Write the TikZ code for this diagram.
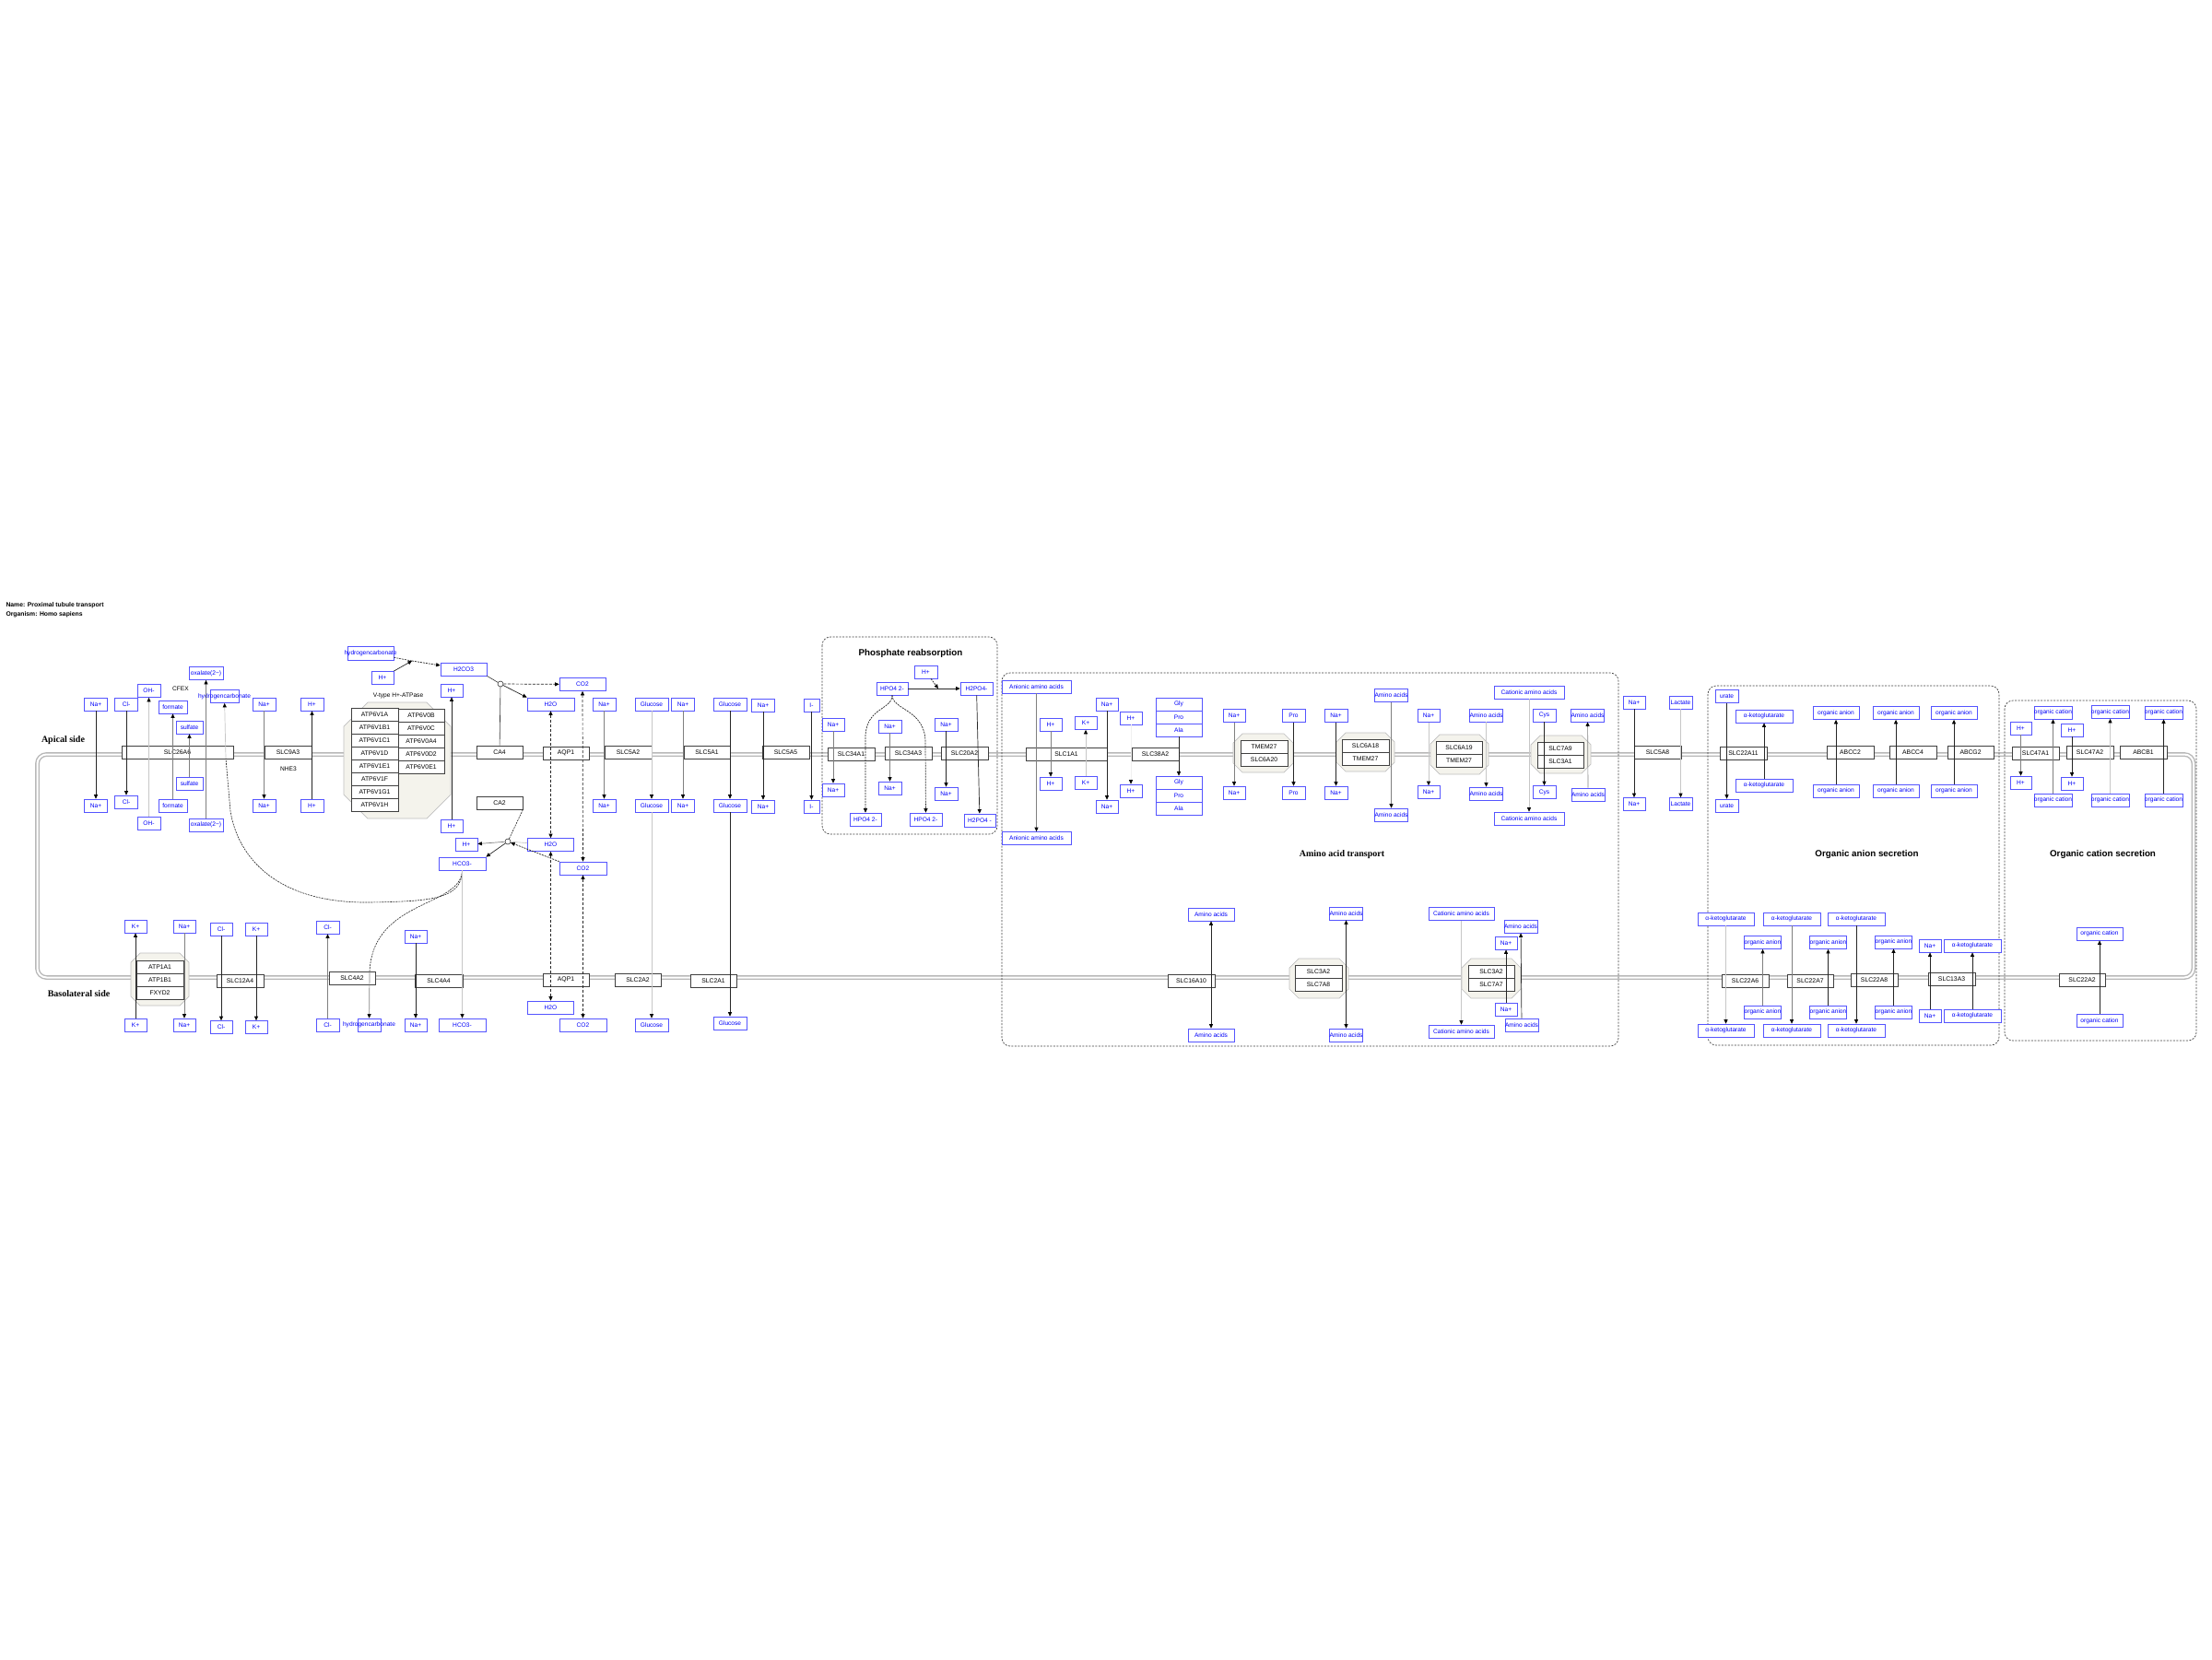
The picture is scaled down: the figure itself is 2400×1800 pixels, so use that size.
\documentclass[tikz,border=0pt]{standalone}
\usepackage{fontspec}
\setmainfont{Liberation Sans}
\newfontfamily\sidefont{Liberation Serif}
\usepackage{xcolor}
\usetikzlibrary{arrows.meta}

\definecolor{metblue}{RGB}{0,0,250}
\definecolor{metline}{RGB}{85,85,255}
\definecolor{cplxfill}{RGB}{244,243,236}
\newcommand{\metfont}{\fontsize{6.6}{7}\selectfont}
\newcommand{\genefont}{\fontsize{6.8}{7}\selectfont}
% octagon behind a protein complex: [chamfer]{x1}{y1}{x2}{y2}
\newcommand{\cplxbg}[5][10]{%
  \draw[cplx] ({#2+#1},#3) -- ({#4-#1},#3) -- (#4,{#3+#1}) -- (#4,{#5-#1})
    -- ({#4-#1},#5) -- ({#2+#1},#5) -- (#2,{#5-#1}) -- (#2,{#3+#1}) -- cycle;}

\begin{document}
\begin{tikzpicture}[
    x=1pt, y=-1pt,
    met/.style={
        draw=metline,
        fill=white,
        text=metblue,
        font=\metfont,
        minimum width=#1,
        minimum height=14,
        inner sep=0pt,
        line width=0.7pt
    },
    met/.default=25,
    mettext/.style={text=metblue, font=\metfont, inner sep=0pt},
    gene/.style={
        draw=black!75,
        fill=white,
        font=\genefont,
        minimum width=#1,
        minimum height=14,
        inner sep=0pt,
        line width=0.7pt
    },
    gene/.default=51,
    note/.style={font=\metfont},
    side/.style={font=\sidefont\fontsize{10}{12}\selectfont\bfseries},
    grptitle/.style={font=\fontsize{9.8}{11}\selectfont\bfseries},
    grp/.style={draw=black!75, dash pattern=on 2pt off 1.5pt, rounded corners=9, line width=0.7pt},
    membrane/.style={draw=black!28, double=white, double distance=2pt, line width=1.4pt, rounded corners=10},
    cplx/.style={draw=black!25, fill=cplxfill, line width=0.7pt},
    cat/.style={circle, draw=black!80, fill=white, minimum size=6, inner sep=0pt, line width=0.6pt},
    flow/.style={
        -{Triangle[length=4.5pt,width=4pt,color=black]},
        draw=black!85,
        line width=0.7pt
    },
    flowg/.style={flow, draw=black!50},
    flowl/.style={flow, draw=black!22},
    both/.style={
        {Triangle[length=4.5pt,width=4pt,color=black]}-{Triangle[length=4.5pt,width=4pt,color=black]},
        draw=black!85,
        line width=0.7pt,
        dash pattern=on 3pt off 2pt
    },
    dline/.style={draw=black!85, line width=0.6pt, dash pattern=on 2pt off 1pt},
    plain/.style={draw=black!80, line width=0.6pt}
]

\fill[white] (0,0) rectangle (2400,1800);
\useasboundingbox (0,0) rectangle (2400,1800);

% Header
\node (hdrname) at (3,657) [anchor=west, font=\fontsize{6.8}{8}\selectfont\bfseries] {Name: Proximal tubule transport};
\node (hdrorg) at (3,667) [anchor=west, font=\fontsize{6.8}{8}\selectfont\bfseries] {Organism: Homo sapiens};

% Cell membrane and groups
\draw[membrane] (40.5,818.5) rectangle (2380,1060.5);
\node (apical) at (68.5,803) [side] {Apical side};
\node (basol) at (85.5,1078) [side] {Basolateral side};

\draw[grp] (892,691) rectangle (1082,905);
\draw[grp] (1087,730) rectangle (1756,1135);
\draw[grp] (1853,744) rectangle (2169,1134);
\draw[grp] (2175,760) rectangle (2383,1129);
\node (phostitle) at (988,709) [grptitle] {Phosphate reabsorption};
\node (aatitle) at (1456,927) [side] {Amino acid transport};
\node (oatitle) at (2025.5,927) [grptitle] {Organic anion secretion};
\node (octitle) at (2281.5,927) [grptitle] {Organic cation secretion};

% Complex backgrounds
\cplxbg{142}{1034}{205}{1091}
\cplxbg[26]{373}{762}{489}{888}
\cplxbg{1338}{796}{1403}{838}
\cplxbg{1450}{795}{1513}{837}
\cplxbg{1552}{797}{1615}{840}
\cplxbg{1661}{798}{1726}{839}
\cplxbg{1399}{1040}{1463}{1083}
\cplxbg{1586}{1040}{1650}{1083}

% SLC26A6 (CFEX)
\node (slc26a6) at (192.5,816) [gene=121] {SLC26A6};
\node (cfex) at (196,747) [note] {CFEX};
\node (naCa) at (104,764) [met] {Na+};
\node (naCb) at (104,874) [met] {Na+};
\node (clCa) at (137,764) [met] {Cl-};
\node (clCb) at (137,870) [met] {Cl-};
\node (ohCa) at (161.5,749.5) [met] {OH-};
\node (ohCb) at (161.5,893) [met] {OH-};
\node (frCa) at (187.5,767) [met=31] {formate};
\node (frCb) at (187.5,874.5) [met=31] {formate};
\node (suCa) at (205.5,789) [met=29] {sulfate};
\node (suCb) at (205.5,850) [met=29] {sulfate};
\node (oxCa) at (223.5,730.5) [met=37] {oxalate(2−)};
\node (oxCb) at (223.5,895) [met=37] {oxalate(2−)};
\node (bcCa) at (243.5,755.5) [met=31, label={[mettext]center:hydrogencarbonate}] {};

% SLC9A3 (NHE3)
\node (slc9a3) at (312.5,816.5) [gene] {SLC9A3};
\node (nhe3) at (313,834) [note] {NHE3};
\node (naNa) at (286.5,764) [met] {Na+};
\node (naNb) at (286.5,874) [met] {Na+};
\node (hNa) at (338.5,764) [met] {H+};
\node (hNb) at (338.5,874) [met] {H+};

% V-type H+-ATPase
\node (vtype) at (432,755) [note] {V-type H+-ATPase};
\node (v1a) at (406.5,775) [gene] {ATP6V1A};
\node (v1b1) at (406.5,789) [gene] {ATP6V1B1};
\node (v1c1) at (406.5,803) [gene] {ATP6V1C1};
\node (v1d) at (406.5,817) [gene] {ATP6V1D};
\node (v1e1) at (406.5,831) [gene] {ATP6V1E1};
\node (v1f) at (406.5,845) [gene] {ATP6V1F};
\node (v1g1) at (406.5,859) [gene] {ATP6V1G1};
\node (v1h) at (406.5,873) [gene] {ATP6V1H};
\node (v0b) at (457,776) [gene=50] {ATP6V0B};
\node (v0c) at (457,790) [gene=50] {ATP6V0C};
\node (v0a4) at (457,804) [gene=50] {ATP6V0A4};
\node (v0d2) at (457,818) [gene=50] {ATP6V0D2};
\node (v0e1) at (457,832) [gene=50] {ATP6V0E1};
\node (hVa) at (490,749) [met=24] {H+};
\node (hVb) at (490,896) [met=24] {H+};

% Carbonic anhydrases and aquaporin
\node (bcCc) at (402,708.5) [met=50, minimum height=15, label={[mettext]center:hydrogencarbonate}] {};
\node (hCc) at (415,735) [met=24] {H+};
\node (h2co3) at (503,726) [met=50] {H2CO3};
\node (ca4) at (542,816) [gene=50] {CA4};
\node (ca4c) at (543,742) [cat] {};
\node (co2A) at (632,742.5) [met=50] {CO2};
\node (h2oA) at (597.5,764) [met=51] {H2O};
\node (aqp1a) at (614,817) [gene=50] {AQP1};
\node (ca2) at (542,871) [gene=50] {CA2};
\node (ca2c) at (551,913) [cat] {};
\node (hM) at (506,916.5) [met=24] {H+};
\node (hco3M) at (501.5,937) [met=51] {HCO3-};
\node (h2oM) at (597.5,916.5) [met=50] {H2O};
\node (co2M) at (632.5,942) [met=51] {CO2};
\node (aqp1b) at (614,1063) [gene=50] {AQP1};
\node (h2oB) at (597.5,1093) [met=50] {H2O};
\node (co2B) at (632.5,1112) [met=51] {CO2};

% Glucose transporters
\node (slc5a2) at (681.5,816) [gene] {SLC5A2};
\node (naS2a) at (655.5,764) [met] {Na+};
\node (naS2b) at (655.5,874) [met] {Na+};
\node (glS2a) at (707,764) [met=36] {Glucose};
\node (glS2b) at (707,874) [met=36] {Glucose};
\node (slc2a2) at (692,1063) [gene=50] {SLC2A2};
\node (glS2c) at (707,1112) [met=36] {Glucose};
\node (slc5a1) at (767,816) [gene=50] {SLC5A1};
\node (naS1a) at (741,764) [met] {Na+};
\node (naS1b) at (741,874) [met] {Na+};
\node (glS1a) at (792,764) [met=36] {Glucose};
\node (glS1b) at (792,874) [met=36] {Glucose};
\node (slc2a1) at (774,1064.5) [gene=50] {SLC2A1};
\node (glS1c) at (792,1110) [met=36] {Glucose};

% SLC5A5
\node (slc5a5) at (852.5,816.5) [gene] {SLC5A5};
\node (naS5a) at (828,765) [met] {Na+};
\node (naS5b) at (828,875) [met] {Na+};
\node (ioda) at (880.5,765) [met=17] {I-};
\node (iodb) at (880.5,875) [met=17] {I-};

% Phosphate reabsorption
\node (hP) at (1004.5,729) [met] {H+};
\node (hpo4a) at (968,747) [met=34] {HPO4 2-};
\node (h2po4a) at (1059.5,747) [met=35] {H2PO4-};
\node (naP1a) at (904,786) [met=24] {Na+};
\node (naP1b) at (904,857) [met=24] {Na+};
\node (naP3a) at (965.5,788) [met] {Na+};
\node (naP3b) at (965.5,855) [met] {Na+};
\node (naP2a) at (1026.5,786) [met] {Na+};
\node (naP2b) at (1026.5,861) [met] {Na+};
\node (slc34a1) at (923.5,818) [gene] {SLC34A1};
\node (slc34a3) at (985.5,817.5) [gene] {SLC34A3};
\node (slc20a2) at (1046.5,817.5) [gene] {SLC20A2};
\node (hpo4b1) at (939,889) [met=34] {HPO4 2-};
\node (hpo4b2) at (1004.5,889) [met=35] {HPO4 2-};
\node (h2po4b) at (1063,890) [met=34] {H2PO4 -};

% Amino acid transport, apical
\node (slc1a1) at (1157,818) [gene=88] {SLC1A1};
\node (anaa) at (1124.5,745) [met=75] {Anionic amino acids};
\node (anab) at (1124.5,909.5) [met=75] {Anionic amino acids};
\node (hEa) at (1140,786) [met=24] {H+};
\node (hEb) at (1140,850) [met=24] {H+};
\node (kEa) at (1178,784.5) [met=24] {K+};
\node (kEb) at (1178,849) [met=24] {K+};
\node (naEa) at (1201,764) [met=24] {Na+};
\node (naEb) at (1201,875) [met=24] {Na+};

\node (slc38a2) at (1253.5,818) [gene] {SLC38A2};
\node (hGa) at (1227,779) [met=24] {H+};
\node (hGb) at (1227,858) [met=24] {H+};
\node (glya) at (1279,764) [met=50] {Gly};
\node (proa) at (1279,778) [met=50] {Pro};
\node (alaa) at (1279,792) [met=50] {Ala};
\node (glyb) at (1279,849) [met=50] {Gly};
\node (prob) at (1279,863) [met=50] {Pro};
\node (alab) at (1279,877) [met=50] {Ala};

\node (tmem27a) at (1371.5,810) [gene] {TMEM27};
\node (slc6a20) at (1371.5,824) [gene] {SLC6A20};
\node (naT1a) at (1339,776.5) [met=24] {Na+};
\node (naT1b) at (1339,860) [met=24] {Na+};
\node (proTa) at (1403.5,776.5) [met] {Pro};
\node (proTb) at (1403.5,860) [met] {Pro};

\node (slc6a18) at (1481.5,809) [gene] {SLC6A18};
\node (tmem27b) at (1481.5,823) [gene] {TMEM27};
\node (naT2a) at (1449.5,776.5) [met] {Na+};
\node (naT2b) at (1449.5,860) [met] {Na+};
\node (aaT2a) at (1509.5,754.5) [met] {Amino acids};
\node (aaT2b) at (1509.5,884) [met] {Amino acids};

\node (slc6a19) at (1583,811) [gene=50] {SLC6A19};
\node (tmem27c) at (1583,825.5) [gene=50] {TMEM27};
\node (naT3a) at (1550,776.5) [met=24] {Na+};
\node (naT3b) at (1550,859.5) [met=24] {Na+};
\node (aaT3a) at (1612.5,776) [met] {Amino acids};
\node (aaT3b) at (1612.5,861) [met] {Amino acids};

\node (slc7a9) at (1693,812) [gene=50] {SLC7A9};
\node (slc3a1) at (1693,826) [gene=50] {SLC3A1};
\node (cataa) at (1659,751) [met=76] {Cationic amino acids};
\node (catab) at (1659,888) [met=76] {Cationic amino acids};
\node (cysa) at (1675.5,776) [met] {Cys};
\node (cysb) at (1675.5,859.5) [met] {Cys};
\node (aaRa) at (1722.5,776) [met] {Amino acids};
\node (aaRb) at (1723,862) [met] {Amino acids};

% Amino acid transport, basolateral
\node (slc16a10) at (1292.5,1064) [gene] {SLC16A10};
\node (aaL1a) at (1314,992) [met=50] {Amino acids};
\node (aaL1b) at (1314,1123) [met=50] {Amino acids};
\node (slc3a2a) at (1430.5,1054) [gene] {SLC3A2};
\node (slc7a8) at (1430.5,1068) [gene] {SLC7A8};
\node (aaL2a) at (1460.5,991) [met] {Amino acids};
\node (aaL2b) at (1460.5,1123) [met] {Amino acids};
\node (slc3a2b) at (1618,1054) [gene=50] {SLC3A2};
\node (slc7a7) at (1618,1068) [gene=50] {SLC7A7};
\node (catba) at (1585.5,991.5) [met=71] {Cationic amino acids};
\node (catbb) at (1585.5,1119) [met=71] {Cationic amino acids};
\node (naLa) at (1634,1023) [met=24] {Na+};
\node (naLb) at (1634,1095) [met=24] {Na+};
\node (aaL3a) at (1650,1005) [met] {Amino acids};
\node (aaL3b) at (1651,1112) [met] {Amino acids};

% SLC5A8
\node (slc5a8) at (1798.5,816) [gene] {SLC5A8};
\node (naMa) at (1773,762) [met=24] {Na+};
\node (naMb) at (1773,872.5) [met=24] {Na+};
\node (laca) at (1823.5,762) [met] {Lactate};
\node (lacb) at (1823.5,872.5) [met] {Lactate};

% Organic anion secretion
\node (slc22a11) at (1891.5,817) [gene] {SLC22A11};
\node (urta) at (1873.5,755.5) [met] {urate};
\node (urtb) at (1873.5,874) [met] {urate};
\node (akga) at (1914,777) [met=62] {α-ketoglutarate};
\node (akgb) at (1914,852) [met=62] {α-ketoglutarate};
\node (abcc2) at (2007.5,816) [gene] {ABCC2};
\node (oa1a) at (1992,773.5) [met=50] {organic anion};
\node (oa1b) at (1992,858) [met=50] {organic anion};
\node (abcc4) at (2075.5,816) [gene] {ABCC4};
\node (oa2a) at (2057,773.5) [met=50] {organic anion};
\node (oa2b) at (2057,858) [met=50] {organic anion};
\node (abcg2) at (2138,816) [gene=50] {ABCG2};
\node (oa3a) at (2120,773.5) [met=50] {organic anion};
\node (oa3b) at (2120,858) [met=50] {organic anion};

\node (slc22a6) at (1893.5,1064) [gene] {SLC22A6};
\node (akg1a) at (1872.5,997) [met=61] {α-ketoglutarate};
\node (akg1b) at (1872.5,1118) [met=61] {α-ketoglutarate};
\node (oa4a) at (1912.5,1022.5) [met] {organic anion};
\node (oa4b) at (1912.5,1098) [met] {organic anion};
\node (slc22a7) at (1964,1064) [gene=50] {SLC22A7};
\node (akg2a) at (1944,997) [met=62] {α-ketoglutarate};
\node (akg2b) at (1944,1118) [met=62] {α-ketoglutarate};
\node (oa5a) at (1983.5,1022.5) [met] {organic anion};
\node (oa5b) at (1983.5,1098) [met] {organic anion};
\node (slc22a8) at (2033.5,1063.5) [gene] {SLC22A8};
\node (akg3a) at (2014,997) [met=62] {α-ketoglutarate};
\node (akg3b) at (2014,1118) [met=62] {α-ketoglutarate};
\node (oa6a) at (2054.5,1022) [met] {organic anion};
\node (oa6b) at (2054.5,1098) [met] {organic anion};
\node (slc13a3) at (2117.5,1062.5) [gene] {SLC13A3};
\node (naOa) at (2094,1026) [met=24] {Na+};
\node (naOb) at (2094,1102) [met=24] {Na+};
\node (akg4a) at (2140,1026) [met=62] {α-ketoglutarate};
\node (akg4b) at (2140,1102) [met=62] {α-ketoglutarate};

% Organic cation secretion
\node (slc47a1) at (2208.5,817) [gene] {SLC47A1};
\node (hQ1a) at (2192.5,790) [met=23] {H+};
\node (hQ1b) at (2192.5,849) [met=23] {H+};
\node (oc1a) at (2227.5,773) [met] {organic cation};
\node (oc1b) at (2227.5,868) [met] {organic cation};
\node (slc47a2) at (2267.5,816) [gene] {SLC47A2};
\node (hQ2a) at (2248,792) [met=24] {H+};
\node (hQ2b) at (2248,850) [met=24] {H+};
\node (oc2a) at (2289.5,772.5) [met] {organic cation};
\node (oc2b) at (2289.5,868) [met] {organic cation};
\node (abcb1) at (2325.5,816) [gene] {ABCB1};
\node (oc3a) at (2347.5,773) [met] {organic cation};
\node (oc3b) at (2347.5,868) [met] {organic cation};
\node (slc22a2) at (2259,1063.5) [gene=50] {SLC22A2};
\node (oc4a) at (2278,1013) [met=50] {organic cation};
\node (oc4b) at (2278,1107.5) [met=50] {organic cation};

% Basolateral, left part
\node (atp1a1) at (173.5,1049) [gene] {ATP1A1};
\node (atp1b1) at (173.5,1063) [gene] {ATP1B1};
\node (fxyd2) at (173.5,1077) [gene] {FXYD2};
\node (kNa) at (147,1005) [met=24] {K+};
\node (kNb) at (147,1112) [met=24] {K+};
\node (naKa) at (200,1005) [met=24] {Na+};
\node (naKb) at (200,1112) [met=24] {Na+};
\node (slc12a4) at (260.5,1064) [gene] {SLC12A4};
\node (clSa) at (240,1008) [met=24] {Cl-};
\node (clSb) at (240,1114.5) [met=24] {Cl-};
\node (kSa) at (278,1008) [met=24] {K+};
\node (kSb) at (278,1114.5) [met=24] {K+};
\node (slc4a2) at (382,1061) [gene=50] {SLC4A2};
\node (clA2a) at (355.5,1006) [met] {Cl-};
\node (clA2b) at (355.5,1112) [met] {Cl-};
\node (bcBL) at (400.5,1112) [met, label={[mettext]center:hydrogencarbonate}] {};
\node (slc4a4) at (476,1064) [gene=52] {SLC4A4};
\node (naA4a) at (451,1016) [met=24] {Na+};
\node (naA4b) at (451,1112) [met=24] {Na+};
\node (hco3B) at (501.5,1112) [met=51] {HCO3-};

% Arrows: SLC26A6, NHE3, V-ATPase
\draw[flow] (naCa) -- (naCb);
\draw[flow] (clCa) -- (clCb);
\draw[flowl] (ohCb) -- (ohCa);
\draw[flowg] (frCb) -- (frCa);
\draw[flowg] (suCb) -- (suCa);
\draw[flowg] (oxCb) -- (oxCa);
\draw[flowg] (naNa) -- (naNb);
\draw[flow] (hNb) -- (hNa);
\draw[flow] (hVb) -- (hVa);

% Arrows: carbonic anhydrase reactions
\coordinate (hjoin) at (447,717);
\draw[dline] (bcCc) -- (hjoin);
\draw[flow] (hCc) -- (hjoin);
\draw[flow, dash pattern=on 2pt off 1pt] (hjoin) -- (h2co3);
\draw[plain] (h2co3.south east) -- (ca4c);
\draw[flow] (ca4c) -- (h2oA.north west);
\draw[flow, dash pattern=on 3pt off 1.5pt] (ca4c) -- (co2A);
\draw[plain] (ca4) -- (ca4c);
\draw[both] (h2oA) -- (h2oM);
\draw[both] (h2oM) -- (h2oB);
\draw[both] (co2A) -- (co2M);
\draw[both] (co2M) -- (co2B);
\draw[dline] (ca2.south east) -- (ca2c);
\draw[plain, draw=black!25] (h2oM) -- (ca2c);
\draw[flow, dash pattern=on 2pt off 1pt] (co2M.north west) -- (ca2c);
\draw[flowg] (ca2c) -- (hM);
\draw[flow] (ca2c) -- (hco3M.north east);

% Arrows: bicarbonate exits
\coordinate (bcexA) at (245,823);
\coordinate (bcexB) at (401,1054);
\draw[dline] (hco3M.south) .. controls (501,975) and (470,978) .. (400,979)
    .. controls (300,980) and (258,930) .. (250,880) -- (bcexA);
\draw[flowl] (bcexA) -- (bcCa);
\draw[dline] (hco3M.south) .. controls (500,985) and (405,975) .. (bcexB);
\draw[flowg] (bcexB) -- (bcBL);
\draw[flowl] (hco3M) -- (hco3B);

% Arrows: basolateral, left part
\draw[flow] (kNb) -- (kNa);
\draw[flowg] (naKa) -- (naKb);
\draw[flow] (clSa) -- (clSb);
\draw[flow] (kSa) -- (kSb);
\draw[flowg] (clA2b) -- (clA2a);
\draw[flow] (naA4a) -- (naA4b);

% Arrows: glucose and iodide
\draw[flowg] (naS2a) -- (naS2b);
\draw[flowl] (glS2a) -- (glS2b);
\draw[flowl] (glS2b) -- (glS2c);
\draw[flowg] (naS1a) -- (naS1b);
\draw[flow] (glS1a) -- (glS1b);
\draw[flow] (glS1b) -- (glS1c);
\draw[flow] (naS5a) -- (naS5b);
\draw[flow] (ioda) -- (iodb);

% Arrows: phosphate
\coordinate (pjoin) at (1018,747);
\draw[flow] (hpo4a) -- (h2po4a);
\draw[flow, dash pattern=on 2pt off 1pt] (hP) -- (pjoin);
\draw[flowg] (naP1a) -- (naP1b);
\draw[flowg] (naP3a) -- (naP3b);
\draw[flow] (naP2a) -- (naP2b);
\draw[flow] (h2po4a) -- (h2po4b);
\draw[flow, dash pattern=on 2pt off 1pt] (hpo4a.south) .. controls (968,770) and (939,768) .. (939,800) -- (hpo4b1);
\draw[flow, dash pattern=on 2pt off 1pt] (hpo4a.south) .. controls (968,770) and (1004,770) .. (1004,805) -- (hpo4b2);

% Arrows: amino acids
\draw[flowg] (anaa) -- (anab);
\draw[flowg] (hEa) -- (hEb);
\draw[flowl] (kEb) -- (kEa);
\draw[flow] (naEa) -- (naEb);
\draw[flow, draw=black!6] (hGa) -- (hGb);
\draw[flow] (alaa) -- (glyb);
\draw[flowg] (naT1a) -- (naT1b);
\draw[flow] (proTa) -- (proTb);
\draw[flow] (naT2a) -- (naT2b);
\draw[flowg] (aaT2a) -- (aaT2b);
\draw[flowl] (naT3a) -- (naT3b);
\draw[flowl] (aaT3a) -- (aaT3b);
\draw[flowl] (cataa) -- (catab);
\draw[flow] (cysa) -- (cysb);
\draw[flowg] (aaRb) -- (aaRa);
\draw[both, dash pattern=] (aaL1a) -- (aaL1b);
\draw[both, dash pattern=] (aaL2a) -- (aaL2b);
\draw[flowl] (catba) -- (catbb);
\draw[flow] (naLb) -- (naLa);
\draw[flow] (aaL3b) -- (aaL3a);

% Arrows: lactate, organic anions and cations
\draw[flow] (naMa) -- (naMb);
\draw[flowl] (laca) -- (lacb);
\draw[flow] (urta) -- (urtb);
\draw[flow] (akgb) -- (akga);
\draw[flow] (oa1b) -- (oa1a);
\draw[flow] (oa2b) -- (oa2a);
\draw[flow] (oa3b) -- (oa3a);
\draw[flowl] (akg1a) -- (akg1b);
\draw[flowg] (oa4b) -- (oa4a);
\draw[flowg] (akg2a) -- (akg2b);
\draw[flow] (oa5b) -- (oa5a);
\draw[flow] (akg3a) -- (akg3b);
\draw[flow] (oa6b) -- (oa6a);
\draw[flow] (naOb) -- (naOa);
\draw[flow] (akg4b) -- (akg4a);
\draw[flowg] (hQ1a) -- (hQ1b);
\draw[flowg] (oc1b) -- (oc1a);
\draw[flow] (hQ2a) -- (hQ2b);
\draw[flowl] (oc2b) -- (oc2a);
\draw[flow] (oc3b) -- (oc3a);
\draw[flow] (oc4b) -- (oc4a);

\end{tikzpicture}
\end{document}
